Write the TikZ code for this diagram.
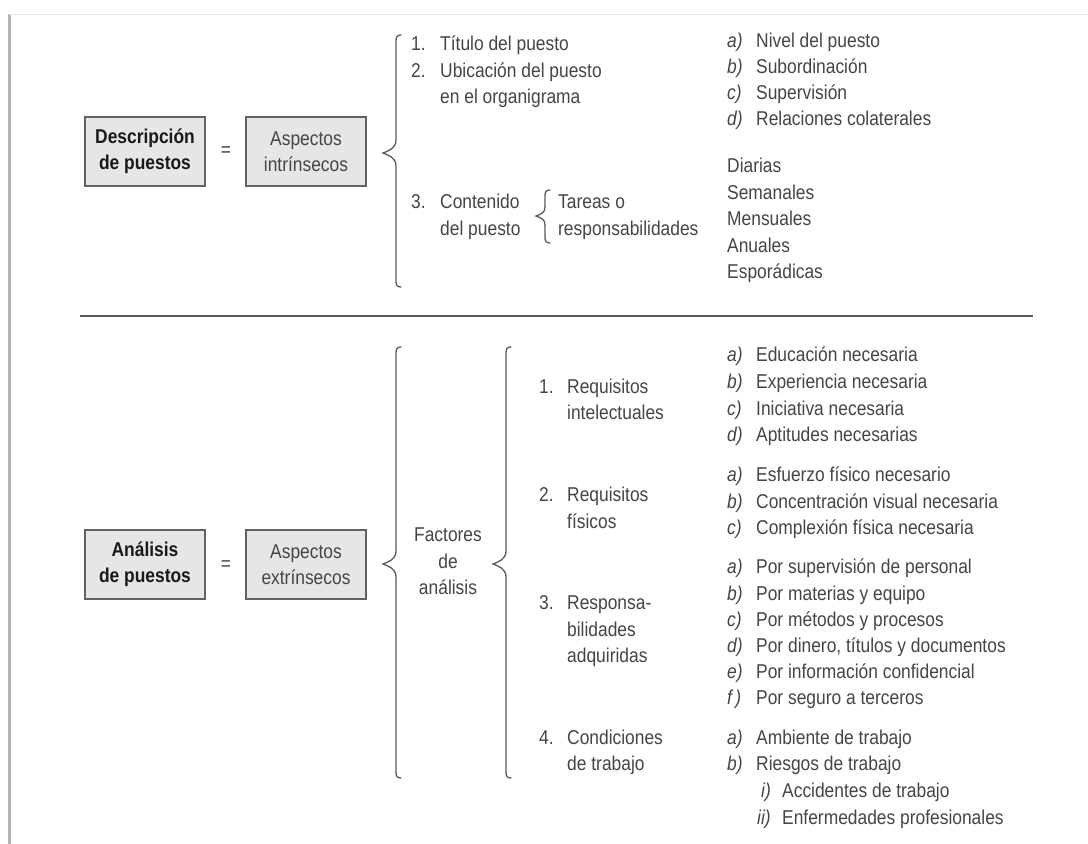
\documentclass[tikz,border=0pt]{standalone}
\usepackage{fontspec}
\setmainfont{Liberation Sans}[FakeStretch=0.87]
\definecolor{tgray}{HTML}{454545}
\definecolor{tdark}{HTML}{1A1A1A}
\definecolor{boxfill}{HTML}{E6E6E6}
\definecolor{boxline}{HTML}{626262}
\definecolor{linegray}{HTML}{5A5A5A}
\newcommand\fsz{\fontsize{20}{26}\selectfont}
\newcommand\fbx{\fontsize{20}{26}\selectfont}
\newcommand\mybrace[6]{% #1 x of line, #2 top y, #3 bottom y, #4 tip x, #5 tip y, #6 half height of tip
  \draw[bracestyle] ({#1+5},#2) .. controls ({#1+1},#2) and (#1,{#2+2}) .. (#1,{#2+6})
    -- (#1,{#5-#6})
    .. controls (#1,{#5-#6/3}) and ({#4+5},{#5-2}) .. (#4,#5)
    .. controls ({#4+5},{#5+2}) and (#1,{#5+#6/3}) .. (#1,{#5+#6})
    -- (#1,{#3-6})
    .. controls (#1,{#3-2}) and ({#1+1},#3) .. ({#1+5},#3);}
\begin{document}
\begin{tikzpicture}[x=1pt,y=-1pt,
  lbl/.style={anchor=base west, inner sep=0pt, text=tgray, font=\fsz},
  lblc/.style={anchor=base, inner sep=0pt, text=tgray, font=\fsz},
  lett/.style={anchor=base west, inner sep=0pt, text=tgray, font=\fsz\itshape},
  titlebox/.style={draw=boxline, fill=boxfill, line width=1.4pt, minimum width=120pt, minimum height=69pt, inner sep=0pt, align=center, font=\fbx\bfseries, text=tdark},
  aspbox/.style={draw=boxline, fill=boxfill, line width=1.4pt, minimum width=120pt, minimum height=69pt, inner sep=0pt, align=center, font=\fbx, text=tgray},
  eq/.style={inner sep=0pt, text=tgray, font=\fsz},
  bracestyle/.style={draw=linegray, line width=1.3pt, line cap=round}]
\useasboundingbox[fill=white] (0,0) rectangle (1088,844);
% frame
\draw[line width=3pt, color=black!30] (9,14) -- (9,844);
\draw[line width=1pt, color=black!10] (9,14) -- (1088,14);

% ---------- top section ----------
\node[titlebox] (desc) at (145,151.5) {Descripción\\de puestos};
\node[eq] (eq1) at (226,152) {=};
\node[aspbox] (intr) at (306,151.5) {Aspectos\\intrínsecos};
\mybrace{396}{35}{287}{383}{153}{13}

\node[lbl] (n1) at (411,50) {1.};
\node[lbl] (t1) at (440,50) {Título del puesto};
\node[lbl] (n2) at (411,77) {2.};
\node[lbl] (t2) at (440,77) {Ubicación del puesto};
\node[lbl] (t2b) at (440,103) {en el organigrama};
\node[lbl] (n3) at (411,208) {3.};
\node[lbl] (t3) at (440,208) {Contenido};
\node[lbl] (t3b) at (440,235) {del puesto};
\mybrace{545}{190}{243}{536}{216}{9}
\node[lbl] (tar1) at (558,208) {Tareas o};
\node[lbl] (tar2) at (558,235) {responsabilidades};

\node[lett] (la) at (727,47) {a)};  \node[lbl] (ra) at (756,47) {Nivel del puesto};
\node[lett] (lb) at (727,73) {b)};  \node[lbl] (rb) at (756,73) {Subordinación};
\node[lett] (lc) at (727,99) {c)};  \node[lbl] (rc) at (756,99) {Supervisión};
\node[lett] (ld) at (727,125) {d)}; \node[lbl] (rd) at (756,125) {Relaciones colaterales};

\node[lbl] (f1) at (727,172) {Diarias};
\node[lbl] (f2) at (727,199) {Semanales};
\node[lbl] (f3) at (727,225) {Mensuales};
\node[lbl] (f4) at (727,252) {Anuales};
\node[lbl] (f5) at (727,278) {Esporádicas};

% separator
\coordinate (sepL) at (80,316);
\coordinate (sepR) at (1033,316);
\draw[draw=linegray, line width=1.4pt] (sepL) -- (sepR);

% ---------- bottom section ----------
\node[titlebox] (anal) at (145,564.5) {Análisis\\de puestos};
\node[eq] (eq2) at (226,566) {=};
\node[aspbox] (extr) at (306,564.5) {Aspectos\\extrínsecos};
\mybrace{396}{347}{778}{383}{564}{13}
\node[lblc] (fa1) at (448,541) {Factores};
\node[lblc] (fa2) at (448,568) {de};
\node[lblc] (fa3) at (448,594) {análisis};
\mybrace{506}{347}{778}{493}{564}{13}

\node[lbl] (m1) at (539,393) {1.}; \node[lbl] (q1) at (567,393) {Requisitos};
\node[lbl] (q1b) at (567,419) {intelectuales};
\node[lbl] (m2) at (539,501) {2.}; \node[lbl] (q2) at (567,501) {Requisitos};
\node[lbl] (q2b) at (567,528) {físicos};
\node[lbl] (m3) at (539,609) {3.}; \node[lbl] (q3) at (567,609) {Responsa-};
\node[lbl] (q3b) at (567,636) {bilidades};
\node[lbl] (q3c) at (567,662) {adquiridas};
\node[lbl] (m4) at (539,744) {4.}; \node[lbl] (q4) at (567,744) {Condiciones};
\node[lbl] (q4b) at (567,770) {de trabajo};

\node[lett] (a1) at (727,361) {a)}; \node[lbl] (ia1) at (756,361) {Educación necesaria};
\node[lett] (b1) at (727,388) {b)}; \node[lbl] (ib1) at (756,388) {Experiencia necesaria};
\node[lett] (c1) at (727,415) {c)}; \node[lbl] (ic1) at (756,415) {Iniciativa necesaria};
\node[lett] (d1) at (727,441) {d)}; \node[lbl] (id1) at (756,441) {Aptitudes necesarias};

\node[lett] (a2) at (727,481) {a)}; \node[lbl] (ia2) at (756,481) {Esfuerzo físico necesario};
\node[lett] (b2) at (727,508) {b)}; \node[lbl] (ib2) at (756,508) {Concentración visual necesaria};
\node[lett] (c2) at (727,534) {c)}; \node[lbl] (ic2) at (756,534) {Complexión física necesaria};

\node[lett] (a3) at (727,573) {a)}; \node[lbl] (ia3) at (756,573) {Por supervisión de personal};
\node[lett] (b3) at (727,600) {b)}; \node[lbl] (ib3) at (756,600) {Por materias y equipo};
\node[lett] (c3) at (727,626) {c)}; \node[lbl] (ic3) at (756,626) {Por métodos y procesos};
\node[lett] (d3) at (727,652) {d)}; \node[lbl] (id3) at (756,652) {Por dinero, títulos y documentos};
\node[lett] (e3) at (727,678) {e)}; \node[lbl] (ie3) at (756,678) {Por información confidencial};
\node[lett] (f3x) at (727,704) {f\,)}; \node[lbl] (if3) at (756,704) {Por seguro a terceros};

\node[lett] (a4) at (727,744) {a)}; \node[lbl] (ia4) at (756,744) {Ambiente de trabajo};
\node[lett] (b4) at (727,770) {b)}; \node[lbl] (ib4) at (756,770) {Riesgos de trabajo};
\node[lett] (i4) at (761,797) {i)}; \node[lbl] (ii4t) at (782,797) {Accidentes de trabajo};
\node[lett] (ii4) at (757,824) {ii)}; \node[lbl] (iii4t) at (782,824) {Enfermedades profesionales};
\end{tikzpicture}
\end{document}
